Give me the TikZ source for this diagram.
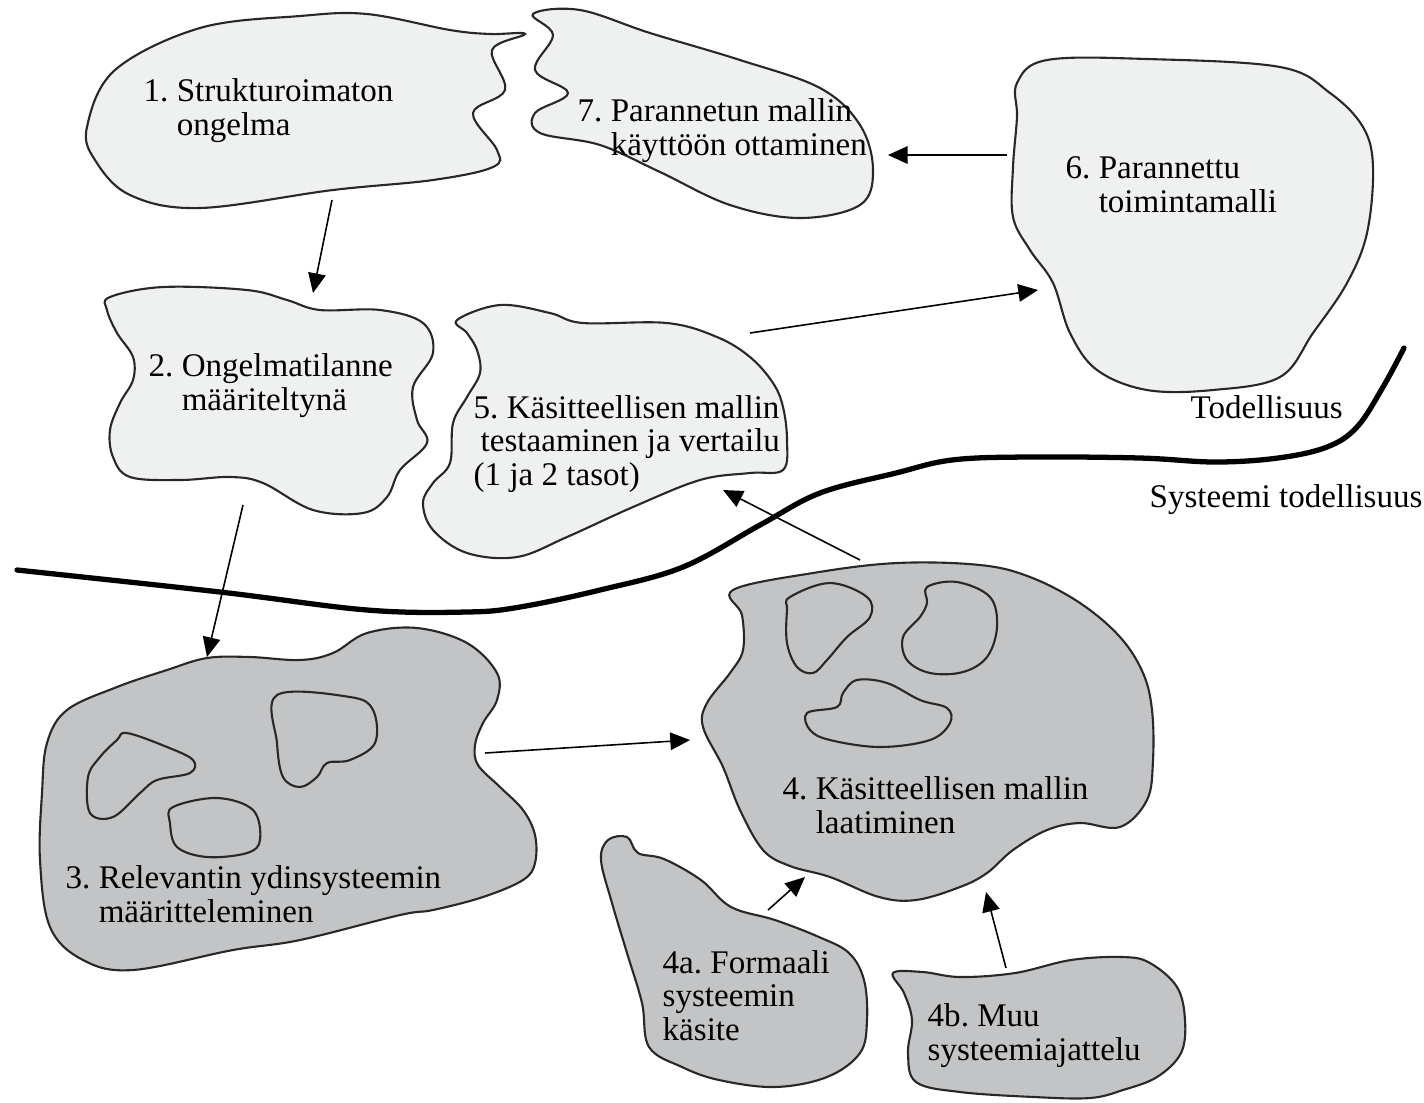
\documentclass[tikz,border=0pt]{standalone}
\usepackage{fontspec}
\setmainfont{Liberation Serif}
\usepackage{tikz}
\usetikzlibrary{arrows.meta}
\definecolor{lightfill}{RGB}{239,240,240}
\definecolor{darkfill}{RGB}{195,196,197}
\definecolor{edge}{RGB}{40,40,40}
\frenchspacing

\begin{document}
\begin{tikzpicture}[x=0.01cm, y=-0.01cm]
    \tikzstyle{light}=[draw=edge, line width=0.6pt, fill=lightfill]
    \tikzstyle{dark}=[draw=edge, line width=0.6pt, fill=darkfill]
    \tikzstyle{hole}=[draw=edge, line width=0.6pt]
    \tikzstyle{lbl}=[anchor=base west, inner sep=0pt, align=left, font=\fontsize{9.4}{9.4}\selectfont]
    \tikzstyle{arr}=[line width=0.45pt, -{Triangle[length=5.6pt, width=5pt]}]
    \useasboundingbox (0,0) rectangle (1424,1102);

    % upper blobs (real world)
    \draw[light] plot[smooth cycle, tension=0.6] coordinates {(87,127) (115,70) (200,28) (300,16) (367,14) (450,30) (490,34) (525,34) (492,50) (505,90) (473,113) (497,150) (493,167) (433,180) (333,190) (200,208) (130,195) (95,160)};
    \draw[light] plot[smooth cycle, tension=0.6] coordinates {(533,14) (580,10) (650,33) (740,60) (820,88) (860,125) (873,170) (860,205) (800,218) (730,205) (660,172) (600,145) (540,133) (535,113) (568,93) (535,70) (553,35)};
    \draw[light] plot[smooth cycle, tension=0.6] coordinates {(1017,83) (1047,60) (1147,59) (1280,67) (1330,93) (1363,127) (1373,167) (1367,233) (1347,283) (1313,333) (1280,377) (1213,390) (1147,390) (1097,370) (1070,333) (1053,283) (1030,250) (1013,217) (1013,167) (1017,117)};
    \draw[light] plot[smooth cycle, tension=0.6] coordinates {(110,297) (163,287) (247,290) (287,300) (320,310) (380,310) (423,323) (433,353) (413,387) (417,420) (427,443) (400,470) (387,497) (363,513) (313,510) (263,483) (230,477) (180,480) (130,477) (113,457) (110,430) (120,403) (133,380) (133,357) (117,333) (107,310)};
    \draw[light] plot[smooth cycle, tension=0.6] coordinates {(457,320) (500,305) (550,313) (583,323) (667,323) (717,337) (750,357) (773,383) (783,407) (787,440) (783,470) (750,473) (700,480) (633,507) (567,537) (517,557) (467,553) (433,530) (423,503) (433,483) (450,463) (453,423) (467,397) (480,373) (477,350) (467,333)};

    % lower blobs (systems world)
    \draw[dark] plot[smooth cycle, tension=0.6] coordinates {(207,658) (250,657) (300,660) (333,653) (367,633) (417,628) (467,643) (497,673) (497,700) (483,723) (475,745) (478,765) (500,787) (523,810) (535,835) (535,863) (523,880) (483,897) (433,910) (400,915) (300,940) (233,950) (133,970) (83,960) (50,927) (40,860) (42,793) (47,743) (67,710) (117,687) (167,670)};
    \draw[hole] plot[smooth cycle, tension=0.6] coordinates {(127,733) (167,747) (193,760) (190,773) (157,780) (140,793) (113,817) (90,813) (88,777) (100,757) (117,740)};
    \draw[hole] plot[smooth cycle, tension=0.6] coordinates {(277,695) (350,697) (373,710) (375,743) (350,760) (327,763) (317,777) (300,787) (283,777) (277,743)};
    \draw[hole] plot[smooth cycle, tension=0.6] coordinates {(173,807) (217,798) (253,810) (260,840) (247,853) (207,857) (177,847) (170,823)};

    \draw[dark] plot[smooth cycle, tension=0.6] coordinates {(733,590) (813,573) (897,563) (980,565) (1030,577) (1080,603) (1120,637) (1143,673) (1152,710) (1153,760) (1147,800) (1120,827) (1080,823) (1047,830) (1013,850) (987,873) (960,887) (916,900) (879,897) (830,877) (790,866) (763,850) (740,810) (723,767) (703,727) (707,703) (730,673) (743,650) (742,615)};
    \draw[hole] plot[smooth cycle, tension=0.6] coordinates {(790,597) (830,583) (867,597) (870,617) (847,637) (827,660) (813,673) (797,667) (787,643) (787,610)};
    \draw[hole] plot[smooth cycle, tension=0.6] coordinates {(927,587) (957,582) (990,597) (997,627) (987,657) (963,672) (930,673) (907,660) (903,637) (920,617) (927,603)};
    \draw[hole] plot[smooth cycle, tension=0.6] coordinates {(807,713) (837,707) (843,693) (857,680) (887,683) (920,700) (947,708) (950,723) (930,740) (880,747) (830,740) (810,730)};

    \draw[dark] plot[smooth cycle, tension=0.6] coordinates {(608,840) (627,837) (638,853) (664,859) (701,880) (731,907) (775,920) (819,937) (849,953) (864,980) (867,1020) (860,1053) (827,1077) (775,1087) (719,1080) (682,1067) (649,1047) (642,1003) (627,953) (612,903) (601,860)};
    \draw[dark] plot[smooth cycle, tension=0.6] coordinates {(893,973) (923,972) (960,977) (1015,973) (1071,960) (1123,957) (1150,963) (1177,987) (1185,1020) (1181,1053) (1157,1077) (1123,1090) (1090,1098) (1034,1097) (960,1092) (916,1082) (908,1053) (912,1020) (904,993)};

    % border between the two worlds
    \draw[line width=1.5pt, line cap=round] plot[smooth, tension=0.6] coordinates {(17,570) (220,592) (367,610) (467,612) (520,607) (600,590) (683,567) (760,525) (820,493) (896,473) (952,460) (1027,457) (1140,458) (1215,462) (1278,458) (1327,447) (1357,427) (1383,387) (1404,348)};

    % labels (placed at the baseline of their last line)
    \node[lbl] (t1) at (143,135) {1. Strukturoimaton\\\phantom{1. }ongelma};
    \node[lbl] (t7) at (577,155) {7. Parannetun mallin\\\phantom{7. }käyttöön ottaminen};
    \node[lbl] (t6) at (1065,212) {6. Parannettu\\\phantom{6. }toimintamalli};
    \node[lbl] (t2) at (148,410) {2. Ongelmatilanne\\\phantom{2. }määriteltynä};
    \node[lbl] (t5) at (473,485) {5. Käsitteellisen mallin\\\hspace{2pt}testaaminen ja vertailu\\(1 ja 2 tasot)};
    \node[lbl] (t3) at (65,922) {3. Relevantin ydinsysteemin\\\phantom{3. }määritteleminen};
    \node[lbl] (t4) at (782,833) {4. Käsitteellisen mallin\\\phantom{4. }laatiminen};
    \node[lbl] (t4a) at (662,1040) {4a. Formaali\\systeemin\\käsite};
    \node[lbl] (t4b) at (927,1060) {4b. Muu\\systeemiajattelu};
    \node[lbl] (real) at (1190,418) {Todellisuus};
    \node[lbl] (sysreal) at (1149,507) {Systeemi todellisuus};

    % arrow ends
    \coordinate (o1) at (332,200);  \coordinate (i2) at (313,293);
    \coordinate (o2) at (243,505);  \coordinate (i3) at (207,657);
    \coordinate (o3) at (485,753);  \coordinate (i4) at (690,740);
    \coordinate (o4a) at (768,910); \coordinate (i4a) at (805,877);
    \coordinate (o4b) at (1006,968); \coordinate (i4b) at (986,892);
    \coordinate (o4) at (860,560);  \coordinate (i5) at (723,490);
    \coordinate (o5) at (750,333);  \coordinate (i6) at (1038,290);
    \coordinate (o6) at (1007,155); \coordinate (i7) at (888,155);

    \draw[arr] (o1) -- (i2);
    \draw[arr] (o2) -- (i3);
    \draw[arr] (o3) -- (i4);
    \draw[arr] (o4a) -- (i4a);
    \draw[arr] (o4b) -- (i4b);
    \draw[arr] (o4) -- (i5);
    \draw[arr] (o5) -- (i6);
    \draw[arr] (o6) -- (i7);
  \end{tikzpicture}
\end{document}
